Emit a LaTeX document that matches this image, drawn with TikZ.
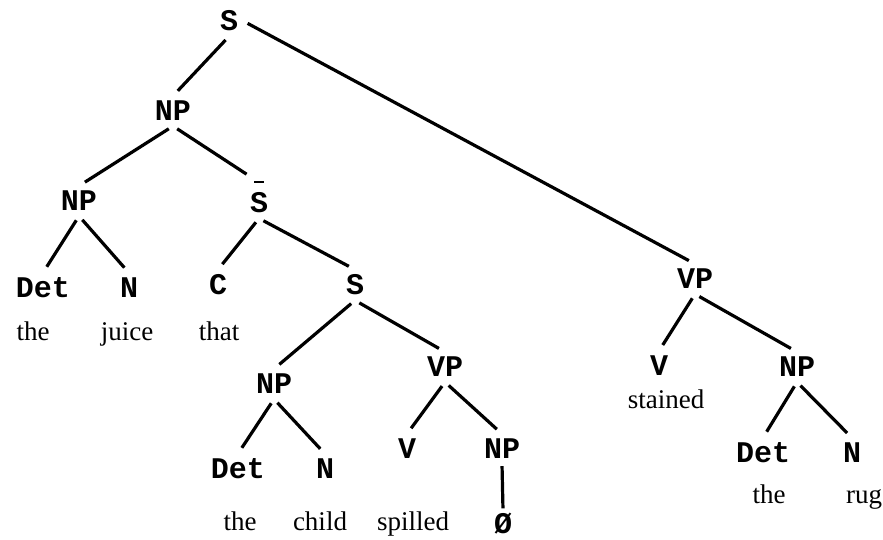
\documentclass[tikz,border=0pt]{standalone}
\usepackage{fontspec}
\newfontfamily\catfont{Liberation Mono}
\newfontfamily\wordfont{Liberation Serif}
\usepackage{tikz}
\usetikzlibrary{
	positioning
}

\begin{document}
\begin{tikzpicture}[x=1pt,y=-1pt,
	cat/.style={font=\catfont\bfseries\fontsize{30}{30}\selectfont, inner sep=5pt},
	word/.style={font=\wordfont\fontsize{27}{27}\selectfont, anchor=base, inner sep=0pt},
	every edge/.style={draw, line width=3.2pt, shorten <=5pt, shorten >=7pt}]
	\useasboundingbox (0,0) rectangle (883,540);
	\draw
		node [cat] (s0)   at (229,21)  {S}
		node [cat] (np1)  at (173,111) {NP}
		node [cat] (np2)  at (79,201)  {NP}
		node [cat,label={[name=bar,inner sep=3pt,label distance=1pt]above:\rule{10pt}{2.2pt}}]
		           (sbar) at (259,203) {S}
		node [cat] (det1) at (43,288)  {Det}
		node [cat] (n1)   at (129,288) {N}
		node [cat] (c1)   at (218,285) {C}
		node [cat] (s2)   at (355,285) {S}
		node [cat] (np3)  at (274,384) {NP}
		node [cat] (vp1)  at (445,367) {VP}
		node [cat] (det2) at (238,469) {Det}
		node [cat] (n2)   at (325,469) {N}
		node [cat] (v1)   at (407,449) {V}
		node [cat] (np4)  at (502,449) {NP}
		node [cat] (vp2)  at (695,279) {VP}
		node [cat] (v2)   at (659,366) {V}
		node [cat] (np5)  at (797,367) {NP}
		node [cat] (det3) at (763,453) {Det}
		node [cat] (n3)   at (852,453) {N}

		node [word] (the1)    at (33,340)  {the}
		node [word] (juice)   at (127,340) {juice}
		node [word] (that)    at (219,340) {that}
		node [word] (the2)    at (240,530) {the}
		node [word] (child)   at (320,530) {child}
		node [word] (spilled) at (413,530) {spilled}
		node [cat,anchor=base,inner sep=2pt] (gap) at (503,533) {\O}
		node [word] (stained) at (666,408) {stained}
		node [word] (the3)    at (769,503) {the}
		node [word] (rug)     at (864,503) {rug}

		(s0.south)   edge (np1.north)
		(s0.east)    edge (vp2.north)
		(np1.south)  edge (np2.north)
		(np1.south)  edge (bar)
		(np2.south)  edge (det1.north)
		(np2.south)  edge (n1.north)
		(sbar.south) edge (c1.north)
		(sbar.south) edge (s2.north)
		(s2.south)   edge (np3.north)
		(s2.south)   edge (vp1.north)
		(np3.south)  edge (det2.north)
		(np3.south)  edge (n2.north)
		(vp1.south)  edge (v1.north)
		(vp1.south)  edge (np4.north)
		(np4.south)  edge[shorten <=2pt, shorten >=2pt] (gap.north)
		(vp2.south)  edge (v2.north)
		(vp2.south)  edge (np5.north)
		(np5.south)  edge (det3.north)
		(np5.south)  edge (n3.north)
	;
\end{tikzpicture}
\end{document}
